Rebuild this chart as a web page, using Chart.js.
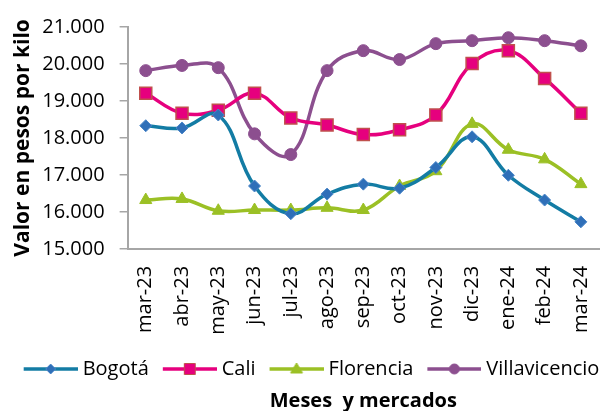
<!DOCTYPE html>
<html>
<head>
<meta charset="utf-8">
<script src="https://cdn.jsdelivr.net/npm/chart.js"></script>
<style>
  body { margin: 0; background: #fff; }
  #wrap { width: 609px; height: 411px; }
</style>
</head>
<body>
<div id="wrap"><canvas id="priceChart"></canvas></div>
<script>
const months = ['mar-23', 'abr-23', 'may-23', 'jun-23', 'jul-23', 'ago-23', 'sep-23',
                'oct-23', 'nov-23', 'dic-23', 'ene-24', 'feb-24', 'mar-24'];
const bogota = [18330, 18270, 18620, 16700, 15950, 16480, 16750, 16640, 17200, 18030, 16990, 16320, 15730];
const cali = [19210, 18670, 18750, 19210, 18540, 18350, 18090, 18220, 18620, 20010, 20360, 19610, 18670];
const florencia = [16320, 16350, 16030, 16050, 16050, 16110, 16050, 16700, 17100, 18380, 17680, 17420, 16750];
const villavicencio = [19820, 19960, 19900, 18110, 17550, 19820, 20360, 20120, 20550, 20630, 20710, 20630, 20490];
const yTicks = [15000, 16000, 17000, 18000, 19000, 20000, 21000];

const FONT = "'Open Sans', 'Noto Sans', sans-serif";

function miles(v) {
    return Math.round(v).toString().replace(/\B(?=(\d{3})+(?!\d))/g, '.');
}

// small canvas with line + marker, used as the legend symbol
// (left part is blank so it works as the gap before each entry)
function legendIcon(line, fill, border, shape) {
    const c = document.createElement('canvas');
    c.width = 73;
    c.height = 20;
    const ctx = c.getContext('2d');
    ctx.strokeStyle = line;
    ctx.lineWidth = 3.5;
    ctx.beginPath();
    ctx.moveTo(19, 10);
    ctx.lineTo(73, 10);
    ctx.stroke();
    const x = 46, y = 10;
    ctx.fillStyle = fill;
    ctx.strokeStyle = border;
    ctx.lineWidth = 1;
    ctx.beginPath();
    if (shape === 'diamond') {
        ctx.moveTo(x, y - 5); ctx.lineTo(x + 5, y); ctx.lineTo(x, y + 5); ctx.lineTo(x - 5, y);
        ctx.closePath();
    } else if (shape === 'square') {
        ctx.rect(x - 5.5, y - 5.5, 11, 11);
    } else if (shape === 'triangle') {
        ctx.moveTo(x, y - 6); ctx.lineTo(x + 6, y + 4); ctx.lineTo(x - 6, y + 4);
        ctx.closePath();
    } else {
        ctx.arc(x, y, 5, 0, Math.PI * 2);
    }
    ctx.fill();
    ctx.stroke();
    return c;
}

const legendIcons = [
    legendIcon('#137ca4', '#2f6fb8', '#4a86c8', 'diamond'),
    legendIcon('#e6007e', '#e6007e', '#c0504d', 'square'),
    legendIcon('#9bc025', '#9bc025', '#9bc025', 'triangle'),
    legendIcon('#8c4f8f', '#8c4f8f', '#8c4f8f', 'circle')
];

new Chart(document.getElementById('priceChart'), {
    type: 'line',
    data: {
        labels: months,
        datasets: [
            {
                label: 'Bogotá',
                data: bogota,
                borderColor: '#137ca4',
                borderWidth: 3.5,
                pointStyle: 'rectRot',
                pointRadius: 6,
                pointBackgroundColor: '#2f6fb8',
                pointBorderColor: '#4a86c8',
                pointBorderWidth: 1,
                tension: 0.4
            },
            {
                label: 'Cali',
                data: cali,
                borderColor: '#e6007e',
                borderWidth: 3.5,
                pointStyle: 'rect',
                pointRadius: 8.5,
                pointBackgroundColor: '#e6007e',
                pointBorderColor: '#c0504d',
                pointBorderWidth: 1.5,
                tension: 0.4
            },
            {
                label: 'Florencia',
                data: florencia,
                borderColor: '#9bc025',
                borderWidth: 3.5,
                pointStyle: 'triangle',
                pointRadius: 7,
                pointBackgroundColor: '#9bc025',
                pointBorderColor: '#9bc025',
                pointBorderWidth: 1,
                tension: 0.4
            },
            {
                label: 'Villavicencio',
                data: villavicencio,
                borderColor: '#8c4f8f',
                borderWidth: 3.5,
                pointStyle: 'circle',
                pointRadius: 6,
                pointBackgroundColor: '#8c4f8f',
                pointBorderColor: '#8c4f8f',
                pointBorderWidth: 1,
                tension: 0.4
            }
        ]
    },
    options: {
        responsive: true,
        maintainAspectRatio: false,
        animation: false,
        events: [],
        layout: { padding: { left: 8, right: 8, top: 9, bottom: 0 } },
        scales: {
            x: {
                offset: true,
                grid: { display: true, drawOnChartArea: false, drawTicks: true, tickLength: 17, color: 'rgba(0,0,0,0)' },
                border: { display: true, color: '#a6a6a6', width: 2 },
                ticks: {
                    color: '#000',
                    font: { family: FONT, size: 20 },
                    minRotation: 90,
                    maxRotation: 90,
                    autoSkip: false,
                    padding: 0
                },
                title: { display: true, text: ' ', font: { size: 1 }, padding: { top: 0, bottom: 23 } }
            },
            y: {
                min: 15000,
                max: 21000,
                afterBuildTicks: function(axis) {
                    axis.ticks = yTicks.map(function(v) { return { value: v }; });
                },
                grid: { display: true, drawOnChartArea: false, drawTicks: true, tickLength: 8, color: '#a6a6a6', lineWidth: 1.5 },
                border: { display: true, color: '#a6a6a6', width: 2 },
                ticks: {
                    color: '#000',
                    font: { family: FONT, size: 20 },
                    padding: 15,
                    callback: function(v) { return miles(v); }
                },
                title: {
                    display: true,
                    text: 'Valor en pesos por kilo',
                    color: '#000',
                    font: { family: FONT, size: 21, weight: 'bold' },
                    padding: { top: 2, bottom: -8 }
                }
            }
        },
        plugins: {
            legend: {
                position: 'bottom',
                labels: {
                    usePointStyle: true,
                    pointStyleWidth: 63,
                    padding: 0,
                    color: '#000',
                    font: { family: FONT, size: 20 },
                    generateLabels: function(chart) {
                        return chart.data.datasets.map(function(ds, i) {
                            return {
                                text: ds.label,
                                pointStyle: legendIcons[i],
                                fillStyle: ds.borderColor,
                                strokeStyle: ds.borderColor,
                                lineWidth: 0,
                                hidden: false,
                                datasetIndex: i,
                                fontColor: '#000'
                            };
                        });
                    }
                }
            },
            title: {
                display: true,
                position: 'bottom',
                fullSize: false,
                text: 'Meses  y mercados',
                color: '#000',
                font: { family: FONT, size: 20, weight: 'bold', lineHeight: 1 },
                padding: { top: 2, bottom: 0 }
            },
            tooltip: { enabled: false }
        }
    }
});
</script>
</body>
</html>
